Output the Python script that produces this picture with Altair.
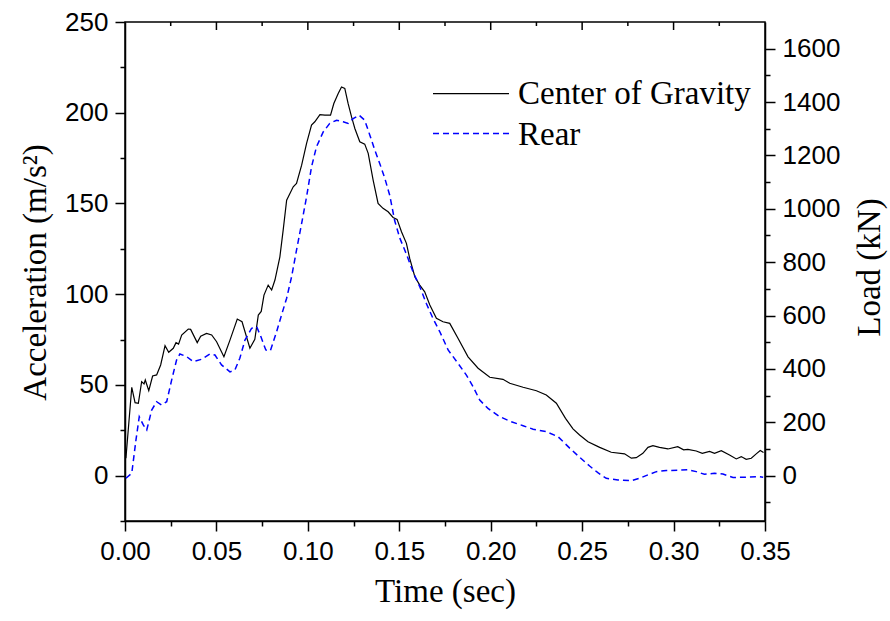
import altair as alt
import pandas as pd

# ---- data ----
time_cg = [0.0005, 0.0037, 0.0055, 0.0073, 0.0091, 0.0104, 0.0111, 0.0130, 0.0151, 0.0173,
           0.0195, 0.0219, 0.0239, 0.0264, 0.0279, 0.0293, 0.0310, 0.0346, 0.0359, 0.0395,
           0.0414, 0.0446, 0.0474, 0.0501, 0.0541, 0.0574, 0.0614, 0.0640, 0.0683, 0.0710,
           0.0729, 0.0745, 0.0760, 0.0783, 0.0802, 0.0820, 0.0847, 0.0865, 0.0884, 0.0920,
           0.0938, 0.0966, 0.0993, 0.1020, 0.1038, 0.1066, 0.1093, 0.1124, 0.1142, 0.1166,
           0.1184, 0.1202, 0.1220, 0.1239, 0.1257, 0.1284, 0.1311, 0.1330, 0.1357, 0.1384,
           0.1411, 0.1439, 0.1466, 0.1488, 0.1512, 0.1539, 0.1557, 0.1585, 0.1612, 0.1639,
           0.1667, 0.1703, 0.1739, 0.1776, 0.1821, 0.1876, 0.1931, 0.1995, 0.2067, 0.2104,
           0.2177, 0.2250, 0.2304, 0.2359, 0.2409, 0.2450, 0.2486, 0.2532, 0.2596, 0.2659,
           0.2732, 0.2769, 0.2796, 0.2832, 0.2860, 0.2887, 0.2923, 0.2969, 0.3023, 0.3055,
           0.3078, 0.3124, 0.3157, 0.3197, 0.3224, 0.3261, 0.3306, 0.3343, 0.3370, 0.3397,
           0.3425, 0.3452, 0.3474, 0.3492]
accel_cg = [9.6, 48.7, 40.2, 39.9, 51.8, 50.5, 52.7, 46.8, 54.9, 55.5,
            61.0, 71.6, 68.0, 70.2, 73.3, 72.5, 77.5, 80.8, 80.6, 73.3,
            76.9, 78.4, 77.5, 73.8, 65.5, 74.7, 86.3, 84.8, 70.2, 75.1,
            88.5, 90.5, 99.5, 105.0, 102.3, 107.8, 120.6, 135.3, 151.8, 159.2,
            161.0, 171.1, 183.1, 193.2, 195.0, 199.0, 198.7, 198.7, 205.1, 210.6,
            214.2, 213.4, 205.1, 197.7, 191.3, 184.0, 182.7, 177.6, 162.9, 150.0,
            147.3, 145.4, 142.3, 141.2, 134.4, 128.0, 119.7, 109.6, 105.0, 101.3,
            94.0, 86.7, 84.8, 83.9, 75.7, 65.5, 59.2, 54.2, 53.1, 50.9,
            48.7, 46.8, 44.4, 39.9, 31.6, 25.8, 22.4, 18.7, 15.6, 12.9,
            12.0, 9.6, 9.9, 12.3, 15.6, 16.5, 15.6, 14.7, 16.0, 14.2,
            14.5, 13.6, 12.3, 13.4, 12.3, 13.8, 11.4, 9.2, 10.5, 9.0,
            9.6, 12.0, 13.8, 12.7]

time_rear = [0.0005, 0.0037, 0.0060, 0.0078, 0.0100, 0.0119, 0.0146, 0.0173, 0.0200, 0.0228,
             0.0255, 0.0282, 0.0300, 0.0337, 0.0373, 0.0419, 0.0464, 0.0492, 0.0528, 0.0574,
             0.0601, 0.0628, 0.0656, 0.0692, 0.0720, 0.0743, 0.0770, 0.0795, 0.0829, 0.0856,
             0.0884, 0.0911, 0.0938, 0.0966, 0.0993, 0.1020, 0.1047, 0.1084, 0.1120, 0.1157,
             0.1193, 0.1220, 0.1248, 0.1280, 0.1311, 0.1339, 0.1366, 0.1393, 0.1421, 0.1448,
             0.1475, 0.1503, 0.1539, 0.1575, 0.1612, 0.1648, 0.1685, 0.1721, 0.1767, 0.1821,
             0.1867, 0.1904, 0.1940, 0.1985, 0.2049, 0.2113, 0.2177, 0.2232, 0.2304, 0.2368,
             0.2432, 0.2486, 0.2541, 0.2586, 0.2632, 0.2696, 0.2769, 0.2814, 0.2860, 0.2906,
             0.2960, 0.3024, 0.3078, 0.3124, 0.3169, 0.3224, 0.3270, 0.3325, 0.3398, 0.3467,
             0.3490]
load_rear = [-10, 9, 134, 221, 190, 171, 246, 277, 265, 277,
             358, 433, 456, 446, 427, 436, 456, 452, 415, 389,
             396, 440, 508, 552, 558, 521, 471, 468, 539, 602,
             665, 745, 845, 945, 1045, 1157, 1232, 1288, 1320, 1332,
             1326, 1320, 1338, 1351, 1332, 1276, 1220, 1170, 1114, 1050,
             955, 890, 830, 764, 708, 645, 588, 540, 471, 421,
             377, 333, 283, 252, 221, 202, 187, 174, 165, 146,
             103, 69, 36, 11, -10, -16, -19, -10, 3, 15,
             19, 20, 22, 15, 5, 9, 6, -7, -6, -4,
             -6]

legend_labels = ["Center of Gravity", "Rear"]

x_tick_values = [round(i * 0.025, 3) for i in range(15)]
left_tick_values = list(range(-25, 251, 25))
right_tick_values = list(range(-100, 1601, 100))
top_major = [0.05, 0.10, 0.15, 0.20, 0.25, 0.30]
top_minor = [0.025, 0.075, 0.125, 0.175, 0.225, 0.275, 0.325]

cg_df = pd.DataFrame({"t": time_cg, "a": accel_cg})
rear_df = pd.DataFrame({"t": time_rear, "kn": load_rear})
top_major_df = pd.DataFrame({"t": top_major})
top_minor_df = pd.DataFrame({"t": top_minor})
leg_cg = pd.DataFrame({"label": [legend_labels[0]]})
leg_rear = pd.DataFrame({"label": [legend_labels[1]]})

SANS = "Liberation Sans"
SERIF = "Liberation Serif"
LABEL_SIZE = 26
TITLE_SIZE = 33

x_major_test = "abs(datum.value*20 - round(datum.value*20)) < 1e-6"
x_enc = alt.X(
    "t:Q",
    scale=alt.Scale(domain=[0, 0.35], nice=False, zero=False),
    axis=alt.Axis(
        values=x_tick_values,
        labelExpr=f"{x_major_test} ? format(datum.value, '.2f') : ''",
        tickSize={"condition": {"test": x_major_test, "value": 10}, "value": 5},
        labelPadding=7,
        title="Time (sec)",
        titleBaseline="alphabetic",
        titleY=80,
    ),
)

left_major_test = "datum.value % 50 == 0"
cg_line = alt.Chart(cg_df).mark_line(color="black", strokeWidth=1.2, clip=True).encode(
    x=x_enc,
    y=alt.Y(
        "a:Q",
        scale=alt.Scale(domain=[-25, 250], nice=False, zero=False),
        axis=alt.Axis(
            orient="left",
            values=left_tick_values,
            labelExpr=f"({left_major_test} && datum.value >= 0) ? datum.value : ''",
            tickSize={"condition": {"test": left_major_test, "value": 10}, "value": 5},
            labelPadding=7,
            title="Acceleration (m/s²)",
            titleAngle=270,
            titleBaseline="alphabetic",
            titleX=-80,
            titleY=250,
        ),
    ),
)

right_major_test = "datum.value % 200 == 0"
rear_line = alt.Chart(rear_df).mark_line(
    color="#0000FF", strokeWidth=1.5, strokeDash=[6, 4], clip=True
).encode(
    x=x_enc,
    y=alt.Y(
        "kn:Q",
        scale=alt.Scale(domain=[-170, 1700], nice=False, zero=False),
        axis=alt.Axis(
            orient="right",
            values=right_tick_values,
            labelExpr=f"{right_major_test} ? datum.value : ''",
            tickSize={"condition": {"test": right_major_test, "value": 10}, "value": 5},
            labelPadding=7,
            title="Load (kN)",
            titleAngle=270,
            titleBaseline="alphabetic",
            titleX=114,
            titleY=245,
        ),
    ),
)

top_major_ticks = alt.Chart(top_major_df).mark_rule(color="black", strokeWidth=1.5).encode(
    x=x_enc, y=alt.value(0), y2=alt.value(8)
)
top_minor_ticks = alt.Chart(top_minor_df).mark_rule(color="black", strokeWidth=1.5).encode(
    x=x_enc, y=alt.value(0), y2=alt.value(4)
)

leg_line_cg = alt.Chart(leg_cg).mark_rule(color="black", strokeWidth=1.2).encode(
    x=alt.value(308), x2=alt.value(384), y=alt.value(71.6)
)
leg_line_rear = alt.Chart(leg_rear).mark_rule(
    color="#0000FF", strokeWidth=1.5, strokeDash=[6, 4]
).encode(x=alt.value(308), x2=alt.value(384), y=alt.value(111.6))
leg_text_cg = alt.Chart(leg_cg).mark_text(
    align="left", baseline="alphabetic", font=SERIF, fontSize=TITLE_SIZE, color="black"
).encode(x=alt.value(393), y=alt.value(81.6), text="label:N")
leg_text_rear = alt.Chart(leg_rear).mark_text(
    align="left", baseline="alphabetic", font=SERIF, fontSize=TITLE_SIZE, color="black"
).encode(x=alt.value(393), y=alt.value(123.3), text="label:N")

chart = (
    alt.layer(
        cg_line, rear_line, top_major_ticks, top_minor_ticks,
        leg_line_cg, leg_line_rear, leg_text_cg, leg_text_rear,
    )
    .resolve_scale(y="independent")
    .properties(
        width=640,
        height=499,
        padding={"left": 125, "top": 22, "right": 125, "bottom": 100},
        autosize=alt.AutoSizeParams(type="none"),
        background="white",
    )
    .configure_view(stroke="black", strokeWidth=1.5)
    .configure_axis(
        grid=False,
        domainColor="black",
        domainWidth=1.5,
        tickColor="black",
        tickWidth=1.5,
        labelColor="black",
        labelFont=SANS,
        labelFontSize=LABEL_SIZE,
        titleColor="black",
        titleFont=SERIF,
        titleFontSize=TITLE_SIZE,
        titleFontWeight="normal",
        labelOverlap=False,
        labelFlush=False,
    )
)

chart.save("out.html", embed_options={"renderer": "svg", "actions": False})
